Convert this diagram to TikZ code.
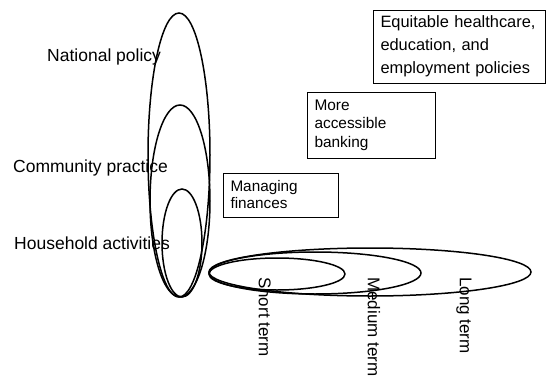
\documentclass[tikz,border=0pt]{standalone}
\usepackage{fontspec}
\setmainfont{Liberation Sans}
\usepackage{tikz}

\tikzset{
  level/.style={inner sep=0pt, anchor=base west,
    font=\fontsize{17.5}{21}\selectfont},
  outcome/.style={draw, line width=0.9pt, inner xsep=7.5pt, inner ysep=0pt,
    align=left},
  horizon/.style={inner sep=0pt, anchor=west, rotate=-90,
    font=\fontsize{17}{20}\selectfont},
  loop/.style={line width=1.5pt}
}

\begin{document}
\begin{tikzpicture}[x=1pt,y=-1pt]
    \useasboundingbox (0,0) rectangle (550,378);

    % levels
    \draw[loop] (179,155) ellipse [x radius=31, y radius=142];
    \draw[loop] (180,201) ellipse [x radius=30, y radius=96];
    \draw[loop] (182,243) ellipse [x radius=20, y radius=54];
    \node[level] (np) at (47,61) {National policy};
    \node[level] (cp) at (13,172) {Community practice};
    \node[level] (ha) at (14,249) {Household activities};

    % time horizons
    \draw[loop] (277,274) ellipse [x radius=68, y radius=16];
    \draw[loop] (315,273) ellipse [x radius=106, y radius=21];
    \draw[loop] (370,272) ellipse [x radius=161, y radius=24];
    \node[horizon] (st) at (265,277) {Short term};
    \node[horizon] (mt) at (374,277) {Medium term};
    \node[horizon] (lt) at (464,277) {Long term};

    % outcomes
    \node[outcome, minimum width=115pt, minimum height=44pt, text width=100pt,
      font=\fontsize{15.3}{17}\selectfont] (mf) at (280.5,195)
      {Managing\\finances};
    \node[outcome, minimum width=128pt, minimum height=66pt, text width=113pt,
      font=\fontsize{15.4}{18.5}\selectfont] (ab) at (371,125)
      {More\\accessible\\banking};
    \node[outcome, minimum width=172pt, minimum height=73pt, text width=157pt,
      font=\fontsize{16.4}{23}\selectfont] (ep) at (459,46.5)
      {Equitable healthcare,\\education, and\\employment policies};
\end{tikzpicture}
\end{document}
